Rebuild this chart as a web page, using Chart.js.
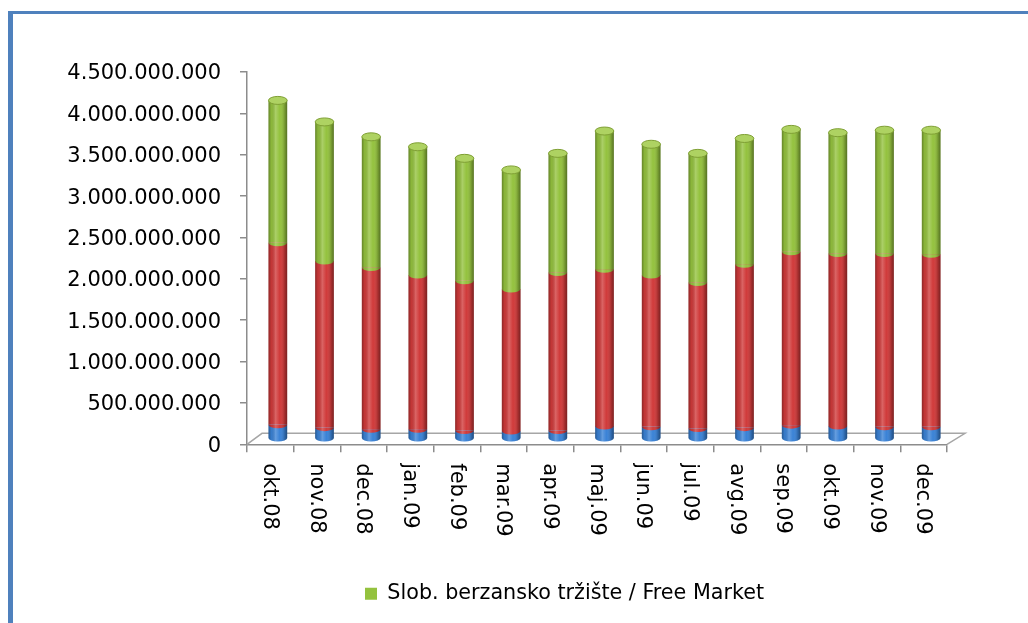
<!DOCTYPE html>
<html>
<head>
<meta charset="utf-8">
<script src="https://cdn.jsdelivr.net/npm/chart.js@4.4.1/dist/chart.umd.min.js"></script>
<style>
    html, body { margin: 0; padding: 0; background: #fff; overflow: hidden; }
    #frame { position: absolute; left: 8px; top: 11px; width: 1100px; height: 700px;
             border-left: 5px solid #4f81bd; border-top: 3px solid #4f81bd; }
    #wrap  { position: absolute; left: 0; top: 0; width: 1028px; height: 623px; }
</style>
</head>
<body>
<div id="frame"></div>
<div id="wrap"><canvas id="chart"></canvas></div>
<script>
// values in millions
const categories = ['okt.08', 'nov.08', 'dec.08', 'jan.09', 'feb.09', 'mar.09', 'apr.09', 'maj.09',
                    'jun.09', 'jul.09', 'avg.09', 'sep.09', 'okt.09', 'nov.09', 'dec.09'];
const blueValues  = [170, 135, 115, 115, 100, 95, 100, 155, 145, 125, 135, 165, 155, 145, 145];
const redValues   = [2200, 2015, 1955, 1865, 1810, 1715, 1910, 1895, 1835, 1765, 1975, 2095, 2085, 2095, 2085];
const greenValues = [1720, 1680, 1580, 1550, 1480, 1440, 1440, 1670, 1580, 1560, 1520, 1480, 1460, 1490, 1500];
const seriesNames = ['Serija 1', 'Serija 2', 'Slob. berzansko tržište / Free Market'];
const yTicks = [0, 500, 1000, 1500, 2000, 2500, 3000, 3500, 4000, 4500];

const C = {
    blue:  '#3a82d6',
    red:   '#d03a3a',
    green: '#94c23e',
    cap:   '#aed262',
    capRim:'#7f9f34',
    axis:  '#8c8c8c',
    text:  '#000',
};
const FONT = "'DejaVu Sans', sans-serif";
const DX = 7.5, DY = 5.5, RY = 3.5;
const LEGEND_SHIFT = 91;

function fmt(v) {
    return String(v * 1e6).replace(/\B(?=(\d{3})+(?!\d))/g, '.');
}

// fake 3D: floor, shifted bars, cylinder ends and shading
const cylinders = {
    id: 'cylinders',
    beforeDatasetsDraw(chart) {
        const { ctx, chartArea: a } = chart;
        ctx.save();
        ctx.strokeStyle = '#a6a6a6';
        ctx.lineWidth = 1.5;
        ctx.beginPath();
        ctx.moveTo(a.left, a.bottom);
        ctx.lineTo(a.left + DX * 2, a.bottom - DY * 2);
        ctx.lineTo(a.right + DX * 2.4, a.bottom - DY * 2);
        ctx.lineTo(a.right, a.bottom);
        ctx.stroke();
        ctx.restore();
        ctx.save();
        ctx.translate(DX, -DY);
    },
    afterDatasetsDraw(chart) {
        const ctx = chart.ctx;
        const metas = chart.getSortedVisibleDatasetMetas();
        const cols = [C.blue, C.red, C.green];
        categories.forEach((_, i) => {
            const bars = metas.map(m => m.data[i].getProps(['x', 'y', 'base', 'width'], true));
            const x = bars[0].x, rx = bars[0].width / 2;
            // lower arcs of each segment
            bars.forEach((b, k) => {
                ctx.fillStyle = cols[k];
                ctx.beginPath();
                ctx.ellipse(x, b.base, rx, RY, 0, 0, Math.PI);
                ctx.fill();
            });
            const top = bars[bars.length - 1].y;
            const bottom = bars[0].base;
            const g = ctx.createLinearGradient(x - rx, 0, x + rx, 0);
            g.addColorStop(0,    'rgba(0,0,0,0.32)');
            g.addColorStop(0.15, 'rgba(0,0,0,0.06)');
            g.addColorStop(0.38, 'rgba(255,255,255,0.22)');
            g.addColorStop(0.6,  'rgba(255,255,255,0)');
            g.addColorStop(0.85, 'rgba(0,0,0,0.18)');
            g.addColorStop(1,    'rgba(0,0,0,0.42)');
            ctx.fillStyle = g;
            ctx.beginPath();
            ctx.moveTo(x - rx, top);
            ctx.lineTo(x - rx, bottom);
            ctx.ellipse(x, bottom, rx, RY, 0, Math.PI, 0, true);
            ctx.lineTo(x + rx, top);
            ctx.closePath();
            ctx.fill();
            // top cap
            ctx.fillStyle = C.cap;
            ctx.strokeStyle = C.capRim;
            ctx.lineWidth = 1;
            ctx.beginPath();
            ctx.ellipse(x, top, rx, RY + 0.5, 0, 0, Math.PI * 2);
            ctx.fill();
            ctx.stroke();
        });
        ctx.restore();
    }
};

const xLabels = {
    id: 'xLabels',
    afterLayout(chart) {
        // legend sits centred under the plot, not the whole canvas
        chart.legend.left += LEGEND_SHIFT;
        chart.legend.right += LEGEND_SHIFT;
    },
    afterDraw(chart) {
        const { ctx, chartArea: a, scales: { x } } = chart;
        ctx.save();
        ctx.font = `21px ${FONT}`;
        ctx.fillStyle = C.text;
        ctx.textAlign = 'left';
        ctx.textBaseline = 'middle';
        categories.forEach((lab, i) => {
            ctx.save();
            ctx.translate(x.getPixelForValue(i) - 1, a.bottom + 19);
            ctx.rotate(Math.PI / 2);
            ctx.fillText(lab, 0, 0);
            ctx.restore();
        });
        ctx.restore();
    }
};

new Chart(document.getElementById('chart'), {
    type: 'bar',
    data: {
        labels: categories,
        datasets: [
            { label: seriesNames[0], data: blueValues,  backgroundColor: C.blue },
            { label: seriesNames[1], data: redValues,   backgroundColor: C.red },
            { label: seriesNames[2], data: greenValues, backgroundColor: C.green },
        ]
    },
    options: {
        responsive: true, maintainAspectRatio: false, animation: false,
        layout: { padding: { left: 0, right: 81, top: 72, bottom: 9 } },
        datasets: { bar: { categoryPercentage: 1, barPercentage: 0.4, borderWidth: 0 } },
        scales: {
            x: {
                stacked: true,
                grid: { drawOnChartArea: false, tickLength: 8, color: C.axis, lineWidth: 1.5 },
                border: { color: C.axis, width: 1.5 },
                ticks: { display: false },
                afterFit: s => { s.height = 129; }
            },
            y: {
                stacked: true, min: 0, max: 4500,
                afterBuildTicks: s => { s.ticks = yTicks.map(v => ({ value: v })); },
                grid: { drawOnChartArea: false, tickLength: 7, color: C.axis, lineWidth: 1.5 },
                border: { color: C.axis, width: 1.5 },
                ticks: { color: C.text, padding: 19, labelOffset: 2,
                         font: { family: FONT, size: 21 }, callback: v => fmt(v) },
                afterFit: s => { s.width = 247; }
            }
        },
        plugins: {
            tooltip: { enabled: false },
            legend: {
                position: 'bottom',
                labels: {
                    boxWidth: 12, boxHeight: 12, padding: 10, color: C.text,
                    font: { family: FONT, size: 20.7 },
                    filter: item => item.datasetIndex === 2
                }
            }
        }
    },
    plugins: [cylinders, xLabels]
});
</script>
</body>
</html>
